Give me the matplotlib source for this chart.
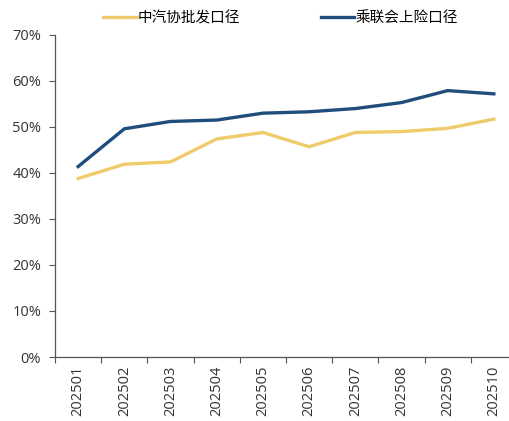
import matplotlib.pyplot as plt
from matplotlib.ticker import FuncFormatter

plt.rcParams['font.family'] = ['Noto Sans CJK SC', 'DejaVu Sans']

months = ['202501', '202502', '202503', '202504', '202505',
          '202506', '202507', '202508', '202509', '202510']
caam = [38.8, 41.9, 42.4, 47.4, 48.8, 45.7, 48.8, 49.0, 49.7, 51.7]
cpca = [41.4, 49.6, 51.2, 51.5, 53.0, 53.3, 54.0, 55.3, 57.9, 57.2]

fig = plt.figure(figsize=(5.10, 4.21), dpi=100)
ax = fig.add_axes([0.108, 0.152, 0.892, 0.765])

x = range(len(months))
ax.plot(x, caam, color='#EFCB6B', lw=2.4, label='中汽协批发口径')
ax.plot(x, cpca, color='#1F4E7D', lw=2.4, label='乘联会上险口径')

ax.set_ylim(0, 70)
ax.set_yticks(range(0, 71, 10))
ax.yaxis.set_major_formatter(FuncFormatter(lambda v, p: f'{v:.0f}%'))
ax.set_xlim(-0.5, 9.35)
ax.set_xticks([i - 0.5 for i in range(len(months))])
ax.set_xticklabels([])
ax.set_xticks(list(x), minor=True)
ax.set_xticklabels(months, minor=True, rotation=90)
ax.tick_params(axis='x', which='minor', length=0, pad=6, labelsize=10.5, labelcolor='#333333')
ax.tick_params(axis='x', which='major', length=4, color='#555555')
ax.tick_params(axis='y', length=4, color='#555555', labelsize=10.5, labelcolor='#333333', pad=6)
for lab in ax.get_xticklabels(minor=True) + ax.get_yticklabels():
    lab.set_fontfamily('Open Sans')

for s in ['top', 'right']:
    ax.spines[s].set_visible(False)
for s in ['left', 'bottom']:
    ax.spines[s].set_color('#555555')
    ax.spines[s].set_linewidth(0.9)

fig.legend(loc='upper center', bbox_to_anchor=(0.55, 1.005), ncol=2, frameon=False,
           fontsize=10.5, handlelength=2.3, handletextpad=0.1, columnspacing=5.5)

fig.savefig('out.png', dpi=100)
